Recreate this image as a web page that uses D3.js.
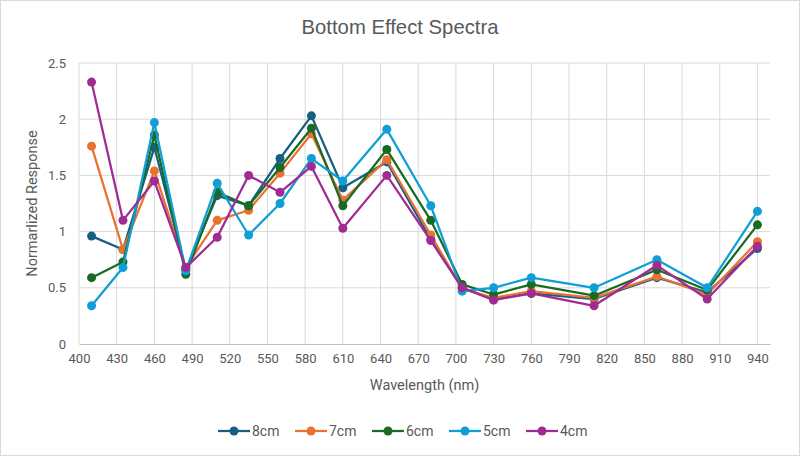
<!DOCTYPE html>
<html>
<head>
<meta charset="utf-8">
<script src="https://cdn.jsdelivr.net/npm/d3@7"></script>
<style>
  body { margin: 0; background: #fff; }
  svg { display: block; }
</style>
</head>
<body>
<svg width="800" height="456"></svg>
<script>
// wavelengths (nm)
var wavelengths = [410, 435, 460, 485, 510, 535, 560, 585, 610, 645, 680, 705, 730, 760, 810, 860, 900, 940];

// normalized response per depth
var cm8 = [0.96, 0.84, 1.75, 0.66, 1.32, 1.23, 1.65, 2.03, 1.39, 1.62, 0.93, 0.50, 0.40, 0.45, 0.40, 0.59, 0.46, 0.85];
var cm7 = [1.76, 0.84, 1.54, 0.68, 1.10, 1.19, 1.52, 1.87, 1.28, 1.64, 0.97, 0.49, 0.41, 0.47, 0.41, 0.60, 0.44, 0.91];
var cm6 = [0.59, 0.73, 1.86, 0.62, 1.35, 1.23, 1.57, 1.92, 1.23, 1.73, 1.10, 0.53, 0.44, 0.53, 0.43, 0.66, 0.48, 1.06];
var cm5 = [0.34, 0.68, 1.97, 0.65, 1.43, 0.97, 1.25, 1.65, 1.45, 1.91, 1.23, 0.47, 0.50, 0.59, 0.50, 0.75, 0.50, 1.18];
var cm4 = [2.33, 1.10, 1.45, 0.68, 0.95, 1.50, 1.35, 1.58, 1.03, 1.50, 0.92, 0.50, 0.39, 0.45, 0.34, 0.70, 0.40, 0.87];

var seriesNames = ["8cm", "7cm", "6cm", "5cm", "4cm"];
var seriesValues = [cm8, cm7, cm6, cm5, cm4];
var seriesColors = ["#156082", "#E97132", "#196B24", "#0F9ED5", "#A02B93"];

var xTicks = d3.range(400, 941, 30);
var yTicks = [0, 0.5, 1, 1.5, 2, 2.5];

var svg = d3.select("svg"),
    width = +svg.attr("width"),
    height = +svg.attr("height"),
    margin = {top: 63, right: 30, bottom: 112, left: 79};

var tickFont = "Roboto, 'Liberation Sans', sans-serif";
var textColor = "#595959";

// outer frame
svg.append("rect")
    .attr("x", 0.5).attr("y", 0.5)
    .attr("width", width - 1).attr("height", height - 1)
    .attr("fill", "#fff")
    .attr("stroke", "#d9d9d9");

var x = d3.scaleLinear().domain([400, 950]).range([margin.left, width - margin.right]);
var y = d3.scaleLinear().domain([0, 2.5]).range([height - margin.bottom, margin.top]);

var g = svg.append("g");

// gridlines
g.append("g")
    .selectAll("line.h")
    .data(yTicks.slice(1))
    .enter().append("line")
      .attr("x1", x(400)).attr("x2", x(950))
      .attr("y1", function(d) { return y(d); })
      .attr("y2", function(d) { return y(d); })
      .attr("stroke", "#d9d9d9").attr("stroke-width", 1);

g.append("g")
    .selectAll("line.v")
    .data(xTicks)
    .enter().append("line")
      .attr("x1", function(d) { return x(d); })
      .attr("x2", function(d) { return x(d); })
      .attr("y1", y(0)).attr("y2", y(2.5))
      .attr("stroke", "#d9d9d9").attr("stroke-width", 1);

// x axis
var xAxis = g.append("g")
    .attr("transform", "translate(0," + y(0) + ")")
    .call(d3.axisBottom(x).tickValues(xTicks).tickSize(0).tickPadding(10));
xAxis.select(".domain").attr("stroke", "#bfbfbf").attr("stroke-width", 1.2);
xAxis.selectAll("text")
    .attr("fill", textColor)
    .style("font-family", tickFont)
    .style("font-size", "13px");

// y axis
var yAxis = g.append("g")
    .attr("transform", "translate(" + margin.left + ",0)")
    .call(d3.axisLeft(y).tickValues(yTicks).tickSize(0).tickPadding(13).tickFormat(d3.format("")));
yAxis.select(".domain").remove();
yAxis.selectAll("text")
    .attr("fill", textColor)
    .style("font-family", tickFont)
    .style("font-size", "13px");

// lines and markers
var line = d3.line()
    .x(function(d, i) { return x(wavelengths[i]); })
    .y(function(d) { return y(d); });

seriesValues.forEach(function(vals, s) {
  var sg = g.append("g");
  sg.append("path")
      .datum(vals)
      .attr("fill", "none")
      .attr("stroke", seriesColors[s])
      .attr("stroke-width", 2.25)
      .attr("stroke-linejoin", "round")
      .attr("d", line);
  sg.selectAll("circle")
    .data(vals)
    .enter().append("circle")
      .attr("cx", function(d, i) { return x(wavelengths[i]); })
      .attr("cy", function(d) { return y(d); })
      .attr("r", 4.5)
      .attr("fill", seriesColors[s]);
});

// title (narrow face)
svg.append("text")
    .attr("x", width / 2).attr("y", 34)
    .attr("text-anchor", "middle")
    .attr("fill", textColor)
    .attr("textLength", 197)
    .attr("lengthAdjust", "spacingAndGlyphs")
    .style("font-family", "'Liberation Sans', sans-serif")
    .style("font-size", "21px")
    .text("Bottom Effect Spectra");

// axis titles
svg.append("text")
    .attr("x", (x(400) + x(950)) / 2).attr("y", 390)
    .attr("text-anchor", "middle")
    .attr("fill", textColor)
    .style("font-family", tickFont)
    .style("font-size", "14.5px")
    .text("Wavelength (nm)");

svg.append("text")
    .attr("transform", "translate(37," + (y(0) + y(2.5)) / 2 + ") rotate(-90)")
    .attr("text-anchor", "middle")
    .attr("fill", textColor)
    .style("font-family", tickFont)
    .style("font-size", "14.5px")
    .text("Normarlized Response");

// legend
var legend = svg.append("g").attr("transform", "translate(218,431)");
var item = legend.selectAll("g")
    .data(seriesNames)
    .enter().append("g")
      .attr("transform", function(d, i) { return "translate(" + (i * 77) + ",0)"; });
item.append("line")
    .attr("x1", 0).attr("x2", 32)
    .attr("stroke", function(d, i) { return seriesColors[i]; })
    .attr("stroke-width", 2.25);
item.append("circle")
    .attr("cx", 16).attr("r", 4.5)
    .attr("fill", function(d, i) { return seriesColors[i]; });
item.append("text")
    .attr("x", 34).attr("dy", "0.35em")
    .attr("fill", textColor)
    .style("font-family", tickFont)
    .style("font-size", "14px")
    .text(function(d) { return d; });
</script>
</body>
</html>
